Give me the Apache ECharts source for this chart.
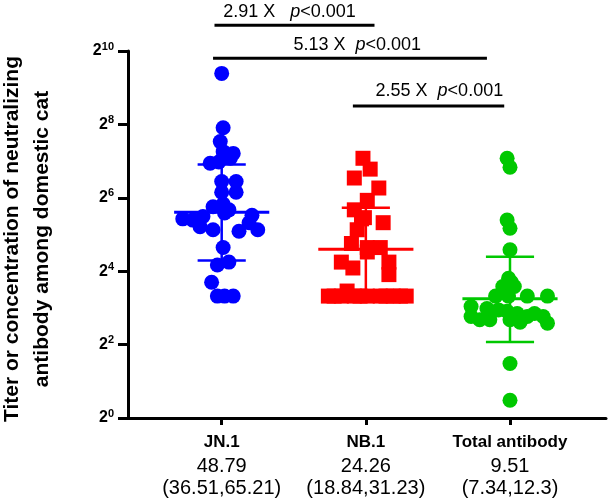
<!DOCTYPE html>
<html>
<head>
<meta charset="utf-8">
<script src="https://cdn.jsdelivr.net/npm/echarts@6/dist/echarts.min.js"></script>
<style>
  html, body { margin: 0; padding: 0; background: #fff; }
  #chart { width: 608px; height: 504px; }
</style>
</head>
<body>
<div id="chart"></div>
<script>
// groups on the x axis
var groups = ['JN.1', 'NB.1', 'Total antibody'];
var gmtText = ['48.79', '24.26', '9.51'];
var ciText = ['(36.51,65.21)', '(18.84,31.23)', '(7.34,12.3)'];
var groupColors = ['#0000ff', '#ff0000', '#00c800'];

// geometric mean and mean +/- SD (titer units)
var gmt = [48.79, 24.26, 9.51];
var sdLow = [19.6, 11.1, 4.2];
var sdHigh = [120, 53, 21];

// individual titers, and their horizontal spread inside the column
var jnTiter = [671, 240, 185, 153, 148, 135, 123, 126, 87, 87, 71, 71, 54, 57, 51, 48,
    43, 42, 45, 46, 40, 37, 35, 34, 35, 25, 18, 19, 13, 10, 10, 10];
var jnSpread = [0, 0.01, -0.01, 0.01, 0.08, 0.06, -0.08, -0.02, 0, 0.10, 0, 0.10, -0.06, 0.01, 0.05, 0.02,
    -0.27, -0.20, -0.13, 0.21, 0.19, -0.15, -0.06, 0.12, 0.25, 0.01, -0.03, 0.05, -0.07, -0.03, 0.02, 0.08];

var nbTiter = [135, 110, 93, 77, 61, 51, 43, 44, 40, 35, 27, 25, 25, 23, 19, 17, 19, 15, 11,
    10, 10, 10, 10, 10, 10, 10, 10, 10, 10, 10];
var nbSpread = [-0.02, 0.03, -0.08, 0.09, 0.01, -0.08, -0.03, -0.01, 0.12, -0.06, -0.10, 0.01, 0.10, 0.01, -0.17, -0.09, 0.16, 0.16, -0.13,
    -0.26, -0.17, -0.08, 0.01, 0.10, 0.19, 0.28, -0.22, -0.04, 0.14, 0.24];

var totTiter = [135, 114, 42, 36, 24, 14, 13, 12, 12, 10, 10, 10, 10,
    8.2, 6.8, 6.4, 6.4, 7.9, 7.7, 7.5, 7.2, 6.8, 7.2, 6.8, 6.0, 6.4, 6.1, 2.8, 1.4];
var totSpread = [-0.02, 0, -0.02, 0, 0, -0.01, 0.01, -0.05, 0.03, -0.10, -0.01, 0.12, 0.26,
    -0.27, -0.27, -0.21, -0.14, -0.16, -0.08, -0.02, 0.05, 0.12, 0.17, 0.23, 0.26, 0, 0.07, 0, 0];

// comparisons drawn above the columns
var sigFold = ['2.91 X', '5.13 X', '2.55 X'];
var sigP = ['<0.001', '<0.001', '<0.001'];
var sigFrom = [0.95, 0.94, 1.91];
var sigTo = [2.06, 2.84, 2.96];
var sigLevel = [10.70, 9.80, 8.50];
var sigTextX = [1.47, 1.94, 2.51];
var sigTextGap = [0.37, 0.36, 0.42];
var sigSpaces = ['   ', '  ', '  '];

var FONT = '"Liberation Sans", Arial, sans-serif';
var MEAN_HALF = 0.33;
var CAP_HALF = 0.167;

function points(titers, spread, center) {
    var out = [];
    for (var i = 0; i < titers.length; i++) {
        out.push([center + spread[i], Math.log2(titers[i])]);
    }
    return out;
}

var summary = [];
for (var g = 0; g < groups.length; g++) {
    summary.push([g + 1, Math.log2(gmt[g]), Math.log2(sdLow[g]), Math.log2(sdHigh[g])]);
}

var sigData = [];
for (var k = 0; k < sigFold.length; k++) {
    sigData.push([sigFrom[k], sigTo[k], sigLevel[k], sigTextX[k], k]);
}

var chart = echarts.init(document.getElementById('chart'), null, { renderer: 'canvas' });

var option = {
    animation: false,
    backgroundColor: '#fff',
    textStyle: { fontFamily: FONT },
    grid: { left: 128, right: 2, top: 51, bottom: 86, outerBoundsMode: 'none', containLabel: false },
    xAxis: {
        type: 'value',
        min: 0.35,
        max: 3.666,
        splitLine: { show: false },
        axisLine: { onZero: false, lineStyle: { color: '#000', width: 3 } },
        axisTick: { customValues: [1, 2, 3], length: 7, lineStyle: { color: '#000', width: 3 } },
        axisLabel: {
            customValues: [1, 2, 3],
            margin: 11,
            color: '#000',
            formatter: function (v) {
                var i = Math.round(v) - 1;
                return '{n|' + groups[i] + '}\n{v|' + gmtText[i] + '}\n{v|' + ciText[i] + '}';
            },
            rich: {
                n: { fontFamily: FONT, fontWeight: 'bold', fontSize: 17, lineHeight: 26, color: '#000' },
                v: { fontFamily: FONT, fontSize: 20, lineHeight: 22, color: '#000' }
            }
        }
    },
    yAxis: {
        type: 'value',
        min: 0,
        max: 10,
        interval: 2,
        splitLine: { show: false },
        axisLine: { onZero: false, lineStyle: { color: '#000', width: 3 } },
        axisTick: { length: 10, lineStyle: { color: '#000', width: 3 } },
        axisLabel: {
            margin: 14,
            formatter: function (v) {
                return '{b|2}{s|' + v + '}';
            },
            rich: {
                b: { fontFamily: FONT, fontWeight: 'bold', fontSize: 16, color: '#000' },
                s: { fontFamily: FONT, fontWeight: 'bold', fontSize: 11, color: '#000', padding: [0, 0, 9, 0] }
            }
        },
        name: 'Titer or concentration of neutralizing\nantibody among domestic cat',
        nameLocation: 'middle',
        nameRotate: 90,
        nameGap: 71,
        nameTextStyle: { fontFamily: FONT, fontWeight: 'bold', fontSize: 21, lineHeight: 30, color: '#000', padding: [0, 9, 0, 0] }
    },
    series: [
        {
            type: 'scatter', symbol: 'circle', symbolSize: 15,
            itemStyle: { color: groupColors[0], opacity: 1 },
            data: points(jnTiter, jnSpread, 1)
        },
        {
            type: 'scatter', symbol: 'rect', symbolSize: 15,
            itemStyle: { color: groupColors[1], opacity: 1 },
            data: points(nbTiter, nbSpread, 2)
        },
        {
            type: 'scatter', symbol: 'circle', symbolSize: 15,
            itemStyle: { color: groupColors[2], opacity: 1 },
            data: points(totTiter, totSpread, 3)
        },
        {
            // geometric mean with SD bars
            type: 'custom',
            z: 5,
            encode: { x: 0, y: [1, 2, 3] },
            data: summary,
            renderItem: function (params, api) {
                var x = api.value(0);
                var m = api.coord([x, api.value(1)]);
                var lo = api.coord([x, api.value(2)]);
                var hi = api.coord([x, api.value(3)]);
                var ml = api.coord([x - MEAN_HALF, 0])[0];
                var mr = api.coord([x + MEAN_HALF, 0])[0];
                var cl = api.coord([x - CAP_HALF, 0])[0];
                var cr = api.coord([x + CAP_HALF, 0])[0];
                var c = groupColors[params.dataIndex];
                return {
                    type: 'group',
                    children: [
                        { type: 'line', shape: { x1: m[0], y1: lo[1], x2: m[0], y2: hi[1] }, style: { stroke: c, lineWidth: 2.5 } },
                        { type: 'line', shape: { x1: cl, y1: hi[1], x2: cr, y2: hi[1] }, style: { stroke: c, lineWidth: 2.5 } },
                        { type: 'line', shape: { x1: cl, y1: lo[1], x2: cr, y2: lo[1] }, style: { stroke: c, lineWidth: 2.5 } },
                        { type: 'line', shape: { x1: ml, y1: m[1], x2: mr, y2: m[1] }, style: { stroke: c, lineWidth: 3 } }
                    ]
                };
            }
        },
        {
            // comparison bars with fold change and p value
            type: 'custom',
            z: 6,
            clip: false,
            encode: { x: [0, 1], y: 2 },
            data: sigData,
            renderItem: function (params, api) {
                var k = api.value(4);
                var a = api.coord([api.value(0), api.value(2)]);
                var b = api.coord([api.value(1), api.value(2)]);
                var t = api.coord([api.value(3), api.value(2) + sigTextGap[k]]);
                return {
                    type: 'group',
                    children: [
                        { type: 'line', shape: { x1: a[0], y1: a[1], x2: b[0], y2: b[1] }, style: { stroke: '#000', lineWidth: 3 } },
                        {
                            type: 'text',
                            style: {
                                x: t[0], y: t[1],
                                text: '{n|' + sigFold[k] + sigSpaces[k] + '}{p|p}{n|' + sigP[k] + '}',
                                align: 'center', verticalAlign: 'middle',
                                rich: {
                                    n: { fontFamily: FONT, fontSize: 18, fill: '#000', color: '#000' },
                                    p: { fontFamily: FONT, fontSize: 18, fontStyle: 'italic', fill: '#000', color: '#000' }
                                }
                            }
                        }
                    ]
                };
            }
        }
    ]
};

chart.setOption(option);
</script>
</body>
</html>
